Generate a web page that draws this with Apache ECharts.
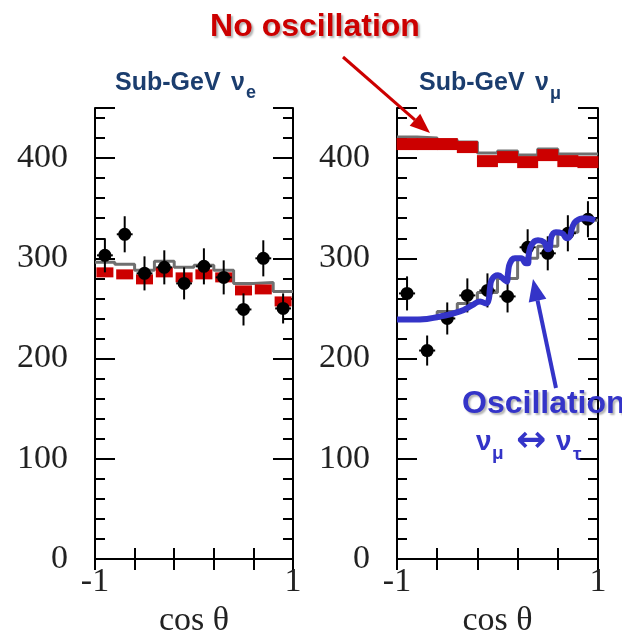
<!DOCTYPE html>
<html>
<head>
<meta charset="utf-8">
<script src="https://cdn.jsdelivr.net/npm/echarts@6/dist/echarts.min.js"></script>
<style>
  html, body { margin: 0; padding: 0; background: #fff; }
  #chart { width: 622px; height: 633px; }
</style>
</head>
<body>
<div id="chart"></div>
<script>
// bin centres, cos(theta)
const cosBins = [-0.9, -0.7, -0.5, -0.3, -0.1, 0.1, 0.3, 0.5, 0.7, 0.9];

// Sub-GeV nu_e
const eData = [303, 324, 285, 291, 275, 292, 281, 249, 300, 250];
const eErr = [17, 18, 17, 17, 16, 18, 17, 16, 18, 15];
const eNoOsc = [286, 284, 279, 286, 281, 284, 281, 268, 269, 257];
const eFit = [296, 294, 288, 297, 291, 293, 288, 275, 276, 267];

// Sub-GeV nu_mu
const muData = [265, 208, 240, 263, 268, 262, 311, 305, 325, 339];
const muErr = [17, 15, 16, 17, 17, 16, 18, 17, 18, 18];
const muNoOsc = [414, 414, 414, 411, 397, 401, 396, 403, 397, 396];
const muNoOscMC = [421, 420, 418, 416, 405, 407, 403, 409, 404, 404];
const muFit = [240, 241, 247, 255, 266, 280, 300, 312, 326, 338];

// hand drawn oscillation curve
const oscCos = [-1.0, -0.771, -0.572, -0.373, -0.254, -0.174, -0.114, -0.085, -0.075, -0.055, 0.005, 0.065,
  0.095, 0.104, 0.124, 0.174, 0.234, 0.284, 0.303, 0.313, 0.343, 0.403, 0.463, 0.502, 0.522, 0.532,
  0.582, 0.642, 0.692, 0.721, 0.741, 0.781, 0.871, 0.97];
const oscCount = [239, 239, 242, 247, 253, 257, 255, 260, 270, 279, 283, 279,
  277, 285, 295, 300, 300, 295, 295, 305, 314, 318, 316, 309, 311, 320,
  326, 325, 320, 322, 330, 337, 340, 338];

const yTicks = [0, 100, 200, 300, 400];
const xEndLabels = ['-1', '1'];

const serif = '"Liberation Serif", "Times New Roman", serif';
const sans = '"Liberation Sans", Arial, sans-serif';
const red = '#cc0000';
const blue = '#3434c8';
const navy = '#1b3d6e';

// cos(theta) -> bin units (0..10) so the ticks fall at -1, -0.6, -0.2, 0.2, 0.6, 1
const u = c => (c + 1) * 5;
const stepData = vals => vals.map((v, i) => [i, v]).concat([[10, vals[vals.length - 1]]]);
const pts = vals => cosBins.map((c, i) => [u(c), vals[i]]);

const frameLine = { lineStyle: { color: '#000', width: 2 } };

function xAxes(gi) {
  return [{
    gridIndex: gi, type: 'value', min: 0, max: 10, interval: 2, position: 'bottom',
    axisLine: frameLine,
    axisTick: { inside: true, length: 11, lineStyle: { color: '#000', width: 2 } },
    splitLine: { show: false },
    axisLabel: {
      margin: 6, fontFamily: serif, fontSize: 34, color: '#222',
      formatter: v => v === 0 ? xEndLabels[0] : (v === 10 ? xEndLabels[1] : '')
    },
    name: 'cos θ', nameLocation: 'middle', nameGap: 32,
    nameTextStyle: { fontFamily: serif, fontSize: 34, color: '#222' }
  }, {
    gridIndex: gi, type: 'value', min: 0, max: 10, interval: 2, position: 'top',
    axisLine: frameLine,
    axisTick: { inside: true, length: 11, lineStyle: { color: '#000', width: 2 } },
    splitLine: { show: false }, axisLabel: { show: false }
  }];
}

function yAxes(gi) {
  const list = [];
  ['left', 'right'].forEach(pos => {
    list.push({
      gridIndex: gi, type: 'value', min: 0, max: 450, interval: 100, position: pos,
      axisLine: { show: true, lineStyle: { color: '#000', width: 2 } },
      axisTick: { show: true, inside: true, length: 20, lineStyle: { color: '#000', width: 2 } },
      splitLine: { show: false },
      axisLabel: {
        show: pos === 'left', margin: 27, fontFamily: serif, fontSize: 34, color: '#222',
        formatter: v => yTicks.indexOf(v) >= 0 ? String(v) : ''
      }
    });
    list.push({
      gridIndex: gi, type: 'value', min: 0, max: 450, interval: 20, position: pos,
      axisLine: { show: false },
      axisTick: { show: true, inside: true, length: 10, lineStyle: { color: '#000', width: 2 } },
      splitLine: { show: false }, axisLabel: { show: false }
    });
  });
  return list;
}

function errBars(vals, errs, xi, yi) {
  return {
    type: 'custom', xAxisIndex: xi, yAxisIndex: yi, z: 4,
    data: cosBins.map((c, i) => [u(c), vals[i], errs[i]]),
    renderItem(params, api) {
      const x = api.value(0), y = api.value(1), e = api.value(2);
      const top = api.coord([x, y + e]), bot = api.coord([x, y - e]);
      const l = api.coord([x - 0.4, y]), r = api.coord([x + 0.4, y]);
      const st = { stroke: '#000', lineWidth: 2 };
      return {
        type: 'group', children: [
          { type: 'line', shape: { x1: top[0], y1: top[1], x2: bot[0], y2: bot[1] }, style: st },
          { type: 'line', shape: { x1: l[0], y1: l[1], x2: r[0], y2: r[1] }, style: st }
        ]
      };
    }
  };
}

function grayStep(vals, xi, yi) {
  return {
    type: 'line', xAxisIndex: xi, yAxisIndex: yi, step: 'end', showSymbol: false, z: 2,
    lineStyle: { color: '#707070', width: 3 }, data: stepData(vals)
  };
}

function redBoxes(vals, size, xi, yi) {
  return {
    type: 'scatter', xAxisIndex: xi, yAxisIndex: yi, symbol: 'rect', symbolSize: size, z: 3,
    itemStyle: { color: red, opacity: 1 }, data: pts(vals)
  };
}

function dots(vals, xi, yi) {
  return {
    type: 'scatter', xAxisIndex: xi, yAxisIndex: yi, symbol: 'circle', symbolSize: 13, z: 5,
    itemStyle: { color: '#000', opacity: 1 }, data: pts(vals)
  };
}

function txt(x, y, text, font, fill, align, shadow) {
  const style = { text: text, font: font, fill: fill, align: align || 'left', verticalAlign: 'middle' };
  if (shadow) {
    style.textShadowColor = 'rgba(0,0,0,0.3)';
    style.textShadowBlur = 2;
    style.textShadowOffsetX = 2;
    style.textShadowOffsetY = 2;
  }
  return { type: 'text', x: x, y: y, z: 100, style: style };
}

function arrow(x1, y1, x2, y2, color, width, headLen, headHalf) {
  const dx = x2 - x1, dy = y2 - y1, len = Math.sqrt(dx * dx + dy * dy);
  const ux = dx / len, uy = dy / len;
  const bx = x2 - headLen * ux, by = y2 - headLen * uy;
  return [
    { type: 'line', z: 100, shape: { x1: x1, y1: y1, x2: bx, y2: by }, style: { stroke: color, lineWidth: width } },
    { type: 'polygon', z: 100, shape: { points: [[x2, y2], [bx - headHalf * uy, by + headHalf * ux], [bx + headHalf * uy, by - headHalf * ux]] },
      style: { fill: color } }
  ];
}

const chart = echarts.init(document.getElementById('chart'), null, { renderer: 'canvas' });

const option = {
  backgroundColor: '#fff',
  animation: false,
  grid: [
    { left: 95, top: 108, width: 198, height: 451, containLabel: false, outerBoundsMode: 'none' },
    { left: 397, top: 108, width: 201, height: 451, containLabel: false, outerBoundsMode: 'none' }
  ],
  xAxis: xAxes(0).concat(xAxes(1)),
  yAxis: yAxes(0).concat(yAxes(1)),
  series: [
    // nu_e panel
    grayStep(eFit, 0, 0),
    redBoxes(eNoOsc, [17, 10], 0, 0),
    errBars(eData, eErr, 0, 0),
    dots(eData, 0, 0),
    // nu_mu panel
    grayStep(muNoOscMC, 2, 4),
    redBoxes(muNoOsc, [21, 12], 2, 4),
    grayStep(muFit, 2, 4),
    errBars(muData, muErr, 2, 4),
    dots(muData, 2, 4),
    {
      type: 'line', xAxisIndex: 2, yAxisIndex: 4, smooth: 0.5, showSymbol: false, z: 6,
      lineStyle: { color: blue, width: 6 },
      data: oscCos.map((c, i) => [u(c), oscCount[i]])
    }
  ],
  graphic: [
    txt(315, 27, 'No oscillation', 'bold 32px ' + sans, red, 'center', true),
    txt(115, 83, 'Sub-GeV', 'bold 25px ' + sans, navy),
    txt(231, 83, 'ν', 'bold 25px ' + sans, navy),
    txt(246, 93, 'e', 'bold 18px ' + sans, navy),
    txt(419, 83, 'Sub-GeV', 'bold 25px ' + sans, navy),
    txt(535, 83, 'ν', 'bold 25px ' + sans, navy),
    txt(550, 94, 'μ', 'bold 18px ' + sans, navy),
    txt(462, 404, 'Oscillation', 'bold 32px ' + sans, blue, 'left', true),
    txt(476, 442, 'ν', 'bold 28px ' + sans, blue),
    txt(492, 454, 'μ', 'bold 19px ' + sans, blue),
    txt(531, 442, '↔', 'bold 36px "DejaVu Sans", sans-serif', blue, 'center'),
    txt(556, 442, 'ν', 'bold 28px ' + sans, blue),
    txt(573, 455, 'τ', 'bold 19px ' + sans, blue)
  ].concat(arrow(343, 57, 430, 133, red, 3, 20, 8))
   .concat(arrow(556, 388, 533, 279, blue, 4, 22, 9))
};

chart.setOption(option);
</script>
</body>
</html>
